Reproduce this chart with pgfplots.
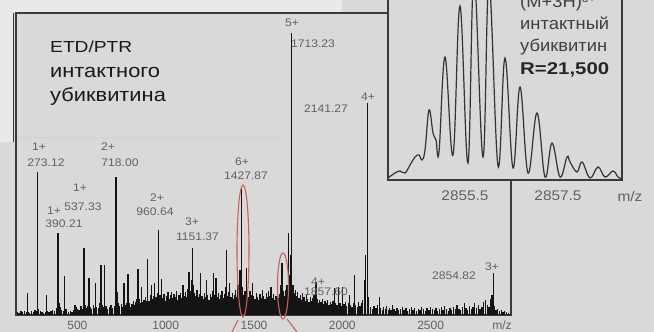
\documentclass[border=0pt]{standalone}
\usepackage{pgfplots}
\pgfplotsset{compat=1.18}
\usepackage{fontspec}
\setmainfont{Liberation Sans}
\newfontfamily\wideA{Liberation Sans}[FakeStretch=1.2]
\newfontfamily\wideC{Liberation Sans}[FakeStretch=1.15]
\newfontfamily\wideB{Liberation Sans}[FakeStretch=1.1]
\newfontfamily\wideD{Liberation Sans}[FakeStretch=1.08]
\definecolor{bg}{HTML}{D9D9D9}
\definecolor{bgl}{HTML}{E9E9E9}
\definecolor{redl}{HTML}{C86060}
\definecolor{axl}{HTML}{3A3A3A}
\pgfplotstableread{
mz h
160 3
170 2
180 4
190 3
200 4
210 3
216 22
222 3
230 2
240 4
250 3
260 5
266 4
273.12 143
280 6
290 4
300 3
310 2
318 3
326 20
332 4
340 3
350 4
360 5
370 4
380 7
390.21 82
396 12
402 8
410 5
420 4
429 39
435 6
440 4
450 3
460 4
470 3
478 5
486 10
492 8
500 6
510 5
520 9
530 6
537.33 67
545 10
552 7
560 9
565 37
572 8
580 6
590 10
596 7
603 32
610 8
620 7
626 12
633 50
640 10
648 8
655 50
662 9
670 6
680 8
690 10
700 7
710 9
718.00 138
725 23
732 12
740 9
748 11
756 8
764 32
770 10
778 12
787 41
795 12
803 8
810 11
817 14
825 10
832 13
838 16
844 46
850 16
857 12
863 28
870 13
877 15
884 18
890 14
897 56
905 14
912 20
919 30
926 16
932 19
938 32
945 18
952 22
960.64 85
968 20
976 36
984 17
991 21
998 14
1005 19
1013 23
1020 16
1026 20
1032 23
1040 17
1047 21
1054 18
1061 24
1068 15
1075 20
1082 22
1089 17
1098 30
1105 19
1112 23
1119 18
1126 26
1132 43
1139 24
1145 35
1151.37 67
1158 30
1165 22
1172 19
1178 25
1185 18
1191 21
1198 42
1205 19
1212 16
1218 22
1225 18
1230 35
1238 20
1245 15
1252 21
1258 18
1264 24
1271 42
1278 20
1285 37
1292 18
1298 22
1305 16
1312 20
1318 24
1325 17
1332 21
1338 28
1343 65
1350 19
1357 23
1363 32
1370 18
1377 22
1383 16
1390 20
1397 25
1403 18
1410 30
1416 22
1421 45
1427.87 127
1435 28
1442 20
1449 24
1456 47
1463 22
1470 18
1477 24
1484 20
1492 32
1499 19
1506 16
1513 22
1520 18
1527 15
1534 21
1541 17
1548 25
1555 19
1562 16
1569 22
1576 18
1583 24
1590 19
1597 28
1604 17
1611 21
1618 15
1625 19
1632 23
1639 17
1646 21
1652 30
1659 52
1666 24
1673 19
1680 25
1687 30
1695 82
1702 40
1708 60
1713.23 282
1720 30
1727 22
1734 25
1741 19
1748 23
1755 17
1762 20
1769 15
1776 22
1783 18
1790 14
1797 20
1804 16
1811 13
1818 18
1825 14
1832 17
1840 20
1846 15
1851 33
1858 16
1865 12
1872 15
1880 13
1887 16
1894 11
1902 14
1910 12
1917 15
1925 10
1932 13
1940 11
1948 14
1955 27
1962 12
1970 10
1979 28
1987 12
1994 9
2002 28
2010 11
2018 13
2025 9
2033 12
2040 20
2048 10
2055 8
2062 12
2068 40
2076 10
2084 8
2092 13
2100 9
2108 12
2115 15
2124 35
2132 60
2141.27 212
2150 18
2160 8
2170 6
2180 9
2190 7
2200 10
2209 18
2218 7
2226 5
2235 8
2244 6
2252 9
2260 5
2268 7
2276 5
2284 10
2292 6
2300 4
2310 7
2320 5
2330 6
2340 8
2350 5
2360 7
2370 4
2380 6
2390 8
2400 5
2410 7
2420 4
2430 6
2440 5
2450 8
2460 6
2470 4
2480 7
2490 5
2500 8
2510 6
2520 5
2530 7
2540 4
2550 6
2560 8
2570 5
2580 9
2590 6
2600 4
2610 7
2620 5
2630 8
2640 6
2650 10
2660 6
2670 5
2680 8
2690 12
2700 7
2710 5
2720 9
2730 6
2740 8
2750 12
2760 7
2770 10
2780 6
2790 8
2800 13
2810 15
2820 10
2830 8
2840 16
2848 20
2854.82 42
2862 9
2870 5
2880 6
2890 4
2900 5
2910 3
2920 4
2930 3
2940 2
}\mainspec
\pgfplotstableread{
mz h
2853.844 2
2853.995 7
2854.102 9
2854.210 7
2854.317 15
2854.425 23
2854.511 25
2854.575 20
2854.640 30
2854.726 70
2854.812 47
2854.876 40
2854.941 28
2855.070 123
2855.242 25
2855.392 174
2855.564 17
2855.693 205
2855.887 23
2856.016 198
2856.210 14
2856.360 122
2856.532 12
2856.683 93
2856.855 7
2857.048 67
2857.220 3
2857.371 37
2857.543 3
2857.694 23
2857.758 18
2857.909 8
2858.017 18
2858.188 2
2858.360 13
2858.511 3
2858.683 9
2858.790 3
2858.876 1
}\insetspec
\begin{document}
\begin{tikzpicture}
\fill[bg] (0pt,0pt) rectangle (654pt,332pt);
\path[use as bounding box] (0pt,0pt) rectangle (654pt,332pt);
\clip (0pt,0pt) rectangle (654pt,332pt);
\fill[bgl] (0pt,319pt) rectangle (342pt,332pt);
\fill[bgl] (0pt,190pt) rectangle (14pt,332pt);
\draw[black!18, line width=0.6pt] (16pt,195pt) -- (285pt,195pt);
\draw[axl, line width=1.2pt] (13.5pt,190pt) -- (13.5pt,319pt);
\begin{axis}[at={(16pt,17pt)}, anchor=south west, scale only axis,
  width=495pt, height=302pt,
  xmin=152.5, xmax=2955, ymin=0, ymax=302,
  axis line style={axl, line width=1.3pt},
  xtick={500,1000,1500,2000,2500,2904},
  xticklabels={500,1000,1500,2000,2500,m/z},
  ytick=\empty, major tick length=0pt,
  xticklabel style={anchor=center, yshift=-10.5pt, font=\fontsize{12}{12}\selectfont, text=black!62},
  clip=true]
\addplot[ycomb, black!92, line width=1.3pt, mark=none] table[x=mz, y=h] {\mainspec};
\end{axis}
\begin{scope}[every node/.style={font=\wideB\fontsize{11}{11}\selectfont, text=black!62, inner sep=0pt}]
\node at (39pt,185pt) {1+};
\node at (46pt,169pt) {273.12};
\node at (108pt,185pt) {2+};
\node at (120pt,169pt) {718.00};
\node at (80pt,144pt) {1+};
\node at (83pt,125pt) {537.33};
\node at (54pt,121pt) {1+};
\node at (64pt,108pt) {390.21};
\node at (157pt,134pt) {2+};
\node at (155pt,120pt) {960.64};
\node at (192pt,110pt) {3+};
\node at (197.5pt,95pt) {1151.37};
\node at (242pt,170pt) {6+};
\node at (246pt,156pt) {1427.87};
\node at (292pt,309pt) {5+};
\node at (313pt,288pt) {1713.23};
\node at (368pt,235pt) {4+};
\node at (326pt,223pt) {2141.27};
\node at (318pt,50pt) {4+};
\node at (326pt,40pt) {1857.60};
\node at (492pt,65pt) {3+};
\node at (454pt,56pt) {2854.82};
\end{scope}
\node[font=\wideA\fontsize{16}{16}\selectfont, text=black!90, inner sep=0pt, anchor=base west] at (50pt,279pt) {ETD/PTR};
\begin{scope}[every node/.style={font=\wideC\fontsize{19}{19}\selectfont, text=black!90, inner sep=0pt, anchor=base west}]
\node at (50pt,254pt) {интактного};
\node at (50pt,230pt) {убиквитина};
\end{scope}
\draw[redl, line width=1.1pt] (243pt,81pt) ellipse [x radius=6pt, y radius=66pt];
\draw[redl, line width=1.1pt] (283pt,46pt) ellipse [x radius=5.5pt, y radius=33pt];
\draw[redl, line width=1.1pt] (238pt,12pt) -- (232pt,0pt);
\draw[redl, line width=1.1pt] (287pt,13pt) -- (297pt,0pt);
\begin{axis}[at={(388pt,152pt)}, anchor=south west, scale only axis,
  width=234pt, height=200pt,
  xmin=2853.844, xmax=2858.876, ymin=0, ymax=200,
  axis background/.style={fill=bg},
  axis line style={axl, line width=1.1pt},
  xtick={2855.5,2857.5}, xticklabels={2855.5,2857.5},
  ytick=\empty, major tick length=0pt,
  xticklabel style={anchor=center, yshift=-16pt, font=\wideB\fontsize{14}{14}\selectfont, text=black!62},
  clip=true]
\addplot[smooth, tension=0.65, black!80, line width=1.2pt, mark=none] table[x=mz, y=h] {\insetspec};
\end{axis}
\node[font=\wideB\fontsize{14}{14}\selectfont, text=black!62, inner sep=0pt] at (630pt,136pt) {m/z};
\begin{scope}[every node/.style={font=\wideD\fontsize{17}{17}\selectfont, text=black!75, inner sep=0pt, anchor=base west}]
\node at (520pt,324pt) {(M+3H)\raisebox{0.6ex}{\fontsize{11}{11}\selectfont 3+}};
\node at (520pt,302pt) {интактный};
\node at (520pt,280pt) {убиквитин};
\node[font=\wideA\fontsize{17}{17}\selectfont\bfseries, text=black!85] at (520pt,257pt) {R=21,500};
\end{scope}
\end{tikzpicture}
\end{document}
